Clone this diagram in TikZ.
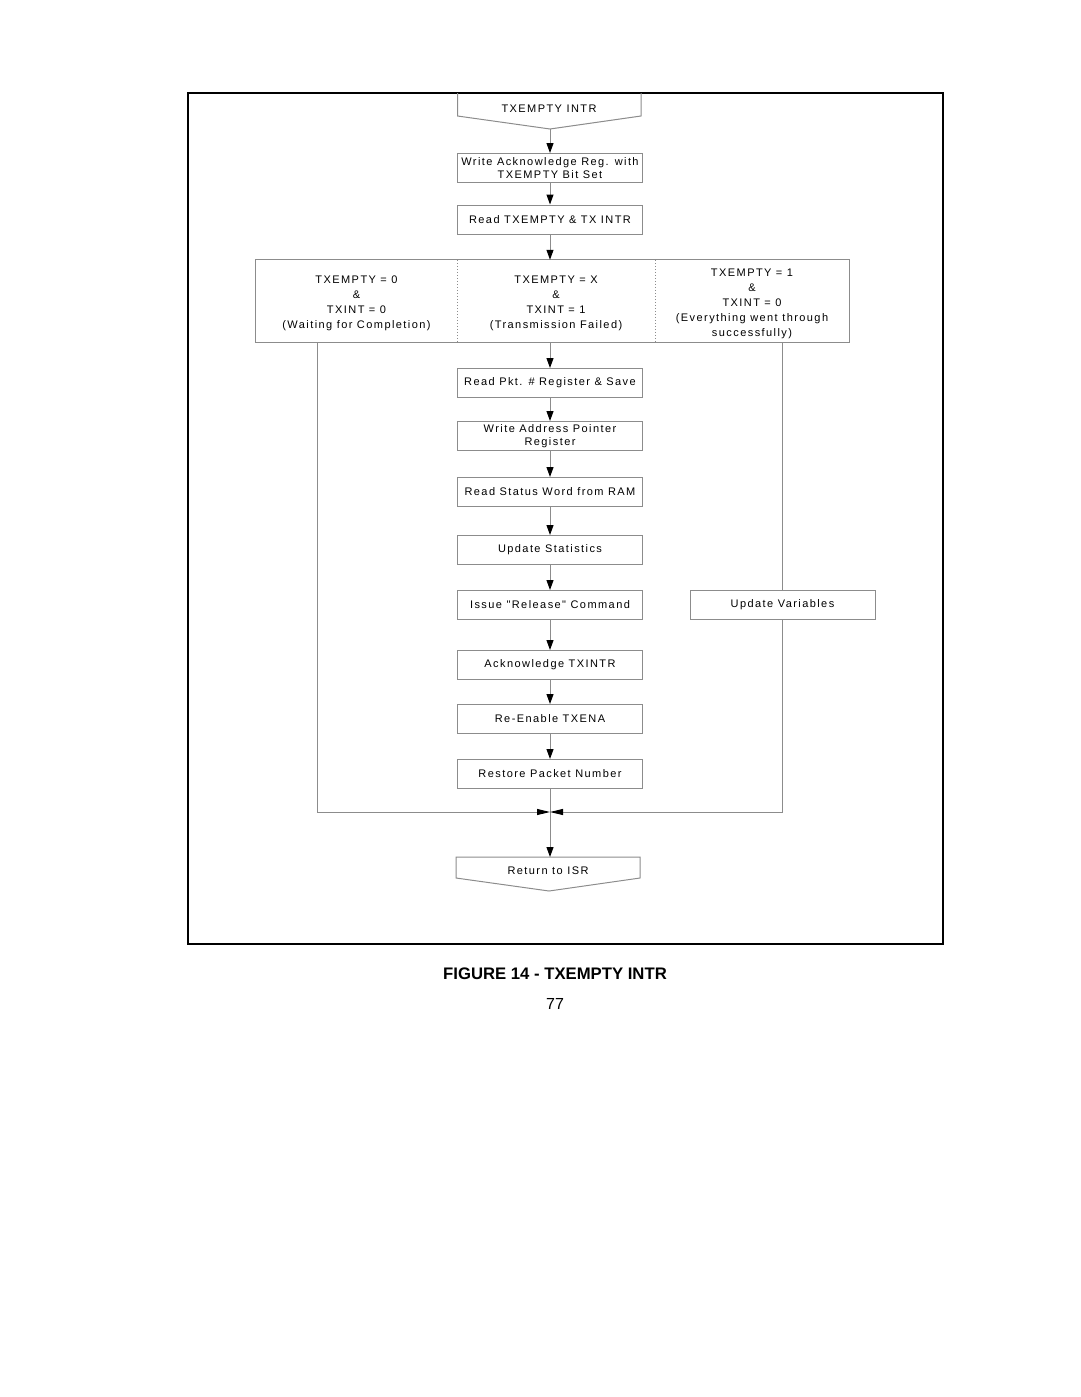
\documentclass[tikz,border=0pt]{standalone}
\usepackage{fontspec}
\setmainfont{Liberation Sans}
\newfontfamily\diagfont[LetterSpace=13]{Liberation Sans}
\usetikzlibrary{arrows.meta}
\tikzset{
  lcol/.style={draw=black!45, line width=1pt},
  box/.style={lcol, minimum width=185pt, minimum height=29pt, inner sep=0pt, align=center,
    font={\diagfont\fontsize{11}{13.5}\selectfont}},
  cell/.style={minimum height=82pt, inner sep=0pt, align=center,
    font={\diagfont\fontsize{11}{15}\selectfont}},
  txt/.style={inner sep=0pt, align=center, font={\diagfont\fontsize{11}{13.5}\selectfont}},
  flow/.style={lcol, -{Triangle[length=10pt,width=7pt,black]}},
  joinarrow/.style={lcol, -{Triangle[length=13pt,width=6pt,black]}},
}
\begin{document}
\begin{tikzpicture}[x=1pt,y=-1pt]
\useasboundingbox (0,0) rectangle (1080,1397);
% outer frame
\draw[black, line width=1.2pt] (188,93) rectangle (943,944);

% start terminal
\node[txt] (start) at (549,108.5) {TXEMPTY INTR};
\draw[lcol] (457.5,93) -- (457.5,116) -- (550,129) -- (641,116) -- (641,93);
\coordinate (starttip) at (550,129);

\node[box] (ack) at (550,168) {Write Acknowledge Reg. with\\TXEMPTY Bit Set};
\node[box] (rd) at (550,219.5) {Read TXEMPTY \& TX INTR};

% three-way condition box
\node[cell, minimum width=201pt] (c1) at (356.5,301) {};
\node[cell, minimum width=198pt] (c2) at (556,301) {};
\node[cell, minimum width=194pt] (c3) at (752,301) {};
\node[cell] (t1) at (356.5,303) {TXEMPTY = 0\\\&\\TXINT = 0\\(Waiting for Completion)};
\node[cell] (t2) at (556,303) {TXEMPTY = X\\\&\\TXINT = 1\\(Transmission Failed)};
\node[cell] (t3) at (752,303.5) {TXEMPTY = 1\\\&\\TXINT = 0\\(Everything went through\\successfully)};
\draw[lcol] (c1.north west) rectangle (c3.south east);
\draw[lcol, dotted] (c1.north east) -- (c1.south east);
\draw[lcol, dotted] (c2.north east) -- (c2.south east);

\node[box] (pkt) at (550,383) {Read Pkt. \# Register \& Save};
\node[box] (wap) at (550,436) {Write Address Pointer\\Register};
\node[box] (rsw) at (550,492) {Read Status Word from RAM};
\node[box] (ust) at (550,550) {Update Statistics};
\node[box] (rel) at (550,605) {Issue "Release" Command};
\node[box] (atx) at (550,665) {Acknowledge TXINTR};
\node[box] (ren) at (550,719) {Re-Enable TXENA};
\node[box] (rpn) at (550,774) {Restore Packet Number};
\node[box] (uvar) at (782.5,605) {Update Variables};

% return terminal
\node[txt] (ret) at (548,871) {Return to ISR};
\draw[lcol] (456,857) -- (640,857) -- (640,878) -- (549,891) -- (456,878) -- cycle;
\coordinate (rettop) at (550,857);

% join coordinates
\coordinate (lx) at (317,0);
\coordinate (rx) at (782.5,0);
\coordinate (jl) at (317,812);
\coordinate (jr) at (782.5,812);
\coordinate (jm) at (550,812);

% main flow
\draw[flow] (starttip) -- (ack.north);
\draw[flow] (ack.south) -- (rd.north);
\draw[flow] (rd.south) -- (rd.south |- c2.north);
\draw[flow] (c2.south -| pkt.north) -- (pkt.north);
\draw[flow] (pkt.south) -- (wap.north);
\draw[flow] (wap.south) -- (rsw.north);
\draw[flow] (rsw.south) -- (ust.north);
\draw[flow] (ust.south) -- (rel.north);
\draw[flow] (rel.south) -- (atx.north);
\draw[flow] (atx.south) -- (ren.north);
\draw[flow] (ren.south) -- (rpn.north);
\draw[flow] (rpn.south) -- (rettop);

% side branches
\draw[lcol] (c1.south -| lx) -- (jl);
\draw[joinarrow] (jl) -- (jm);
\draw[lcol] (c3.south -| rx) -- (uvar.north);
\draw[lcol] (uvar.south) -- (jr);
\draw[joinarrow] (jr) -- (jm);

% caption
\node[inner sep=0pt, font={\fontsize{16.7}{20}\selectfont\bfseries}] (cap) at (555,974) {FIGURE 14 - TXEMPTY INTR};
\node[inner sep=0pt, font={\fontsize{16}{19}\selectfont}] (pg) at (555,1004) {77};
\end{tikzpicture}
\end{document}
